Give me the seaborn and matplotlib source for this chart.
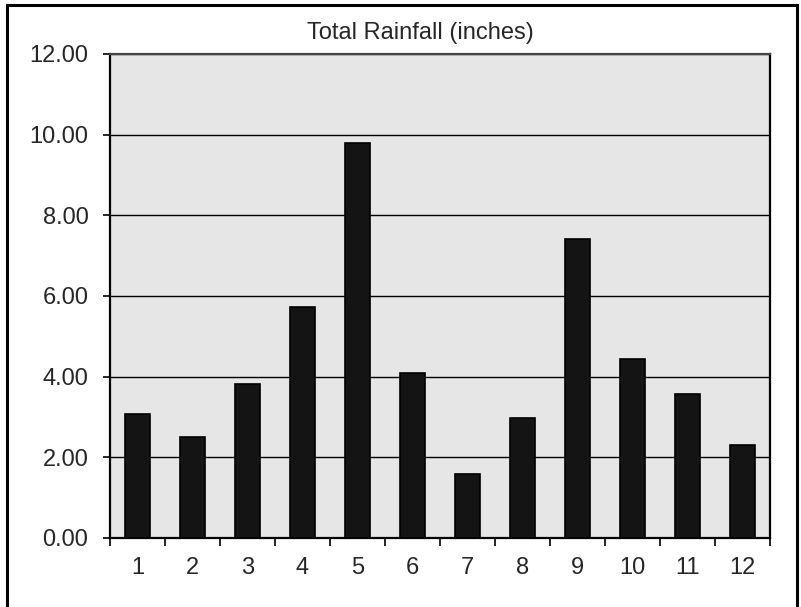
"""
Total rainfall per month, bar chart
"""
import matplotlib
matplotlib.use('Agg')
import matplotlib.pyplot as plt
from matplotlib.patches import Rectangle
from matplotlib.ticker import FixedLocator
import seaborn as sns
import pandas as pd

# Datos
months = ['1', '2', '3', '4', '5', '6', '7', '8', '9', '10', '11', '12']
rainfall = [3.08, 2.50, 3.82, 5.72, 9.80, 4.08, 1.58, 2.98, 7.41, 4.45, 3.56, 2.30]
y_ticks = [0, 2, 4, 6, 8, 10, 12]
title = 'Total Rainfall (inches)'

df = pd.DataFrame({'month': months, 'rainfall': rainfall})

sns.set_style('white')
plt.rcParams['font.family'] = ['Liberation Sans', 'DejaVu Sans']

fig = plt.figure(figsize=(8.01, 6.07), dpi=100)
ax = fig.add_axes([110 / 801, 1 - 538 / 607, 660 / 801, 484 / 607])
ax.set_facecolor('#e6e6e6')

sns.barplot(data=df, x='month', y='rainfall', color='#141414', width=0.46,
            edgecolor='black', linewidth=1.2, saturation=1, ax=ax, zorder=3)

ax.set_ylim(0, 12)
ax.set_xlim(-0.5, 11.5)
ax.set_yticks(y_ticks)
ax.set_yticklabels([f'{v:.2f}' for v in y_ticks], fontsize=17)
ax.yaxis.grid(True, color='black', linewidth=1.0, zorder=1)
ax.set_axisbelow(True)
ax.tick_params(axis='y', direction='out', length=5, width=1.2, color='black', pad=10.5, left=True)

# ticks entre categorías
ax.xaxis.set_minor_locator(FixedLocator([i - 0.5 for i in range(13)]))
ax.tick_params(axis='x', which='major', length=0, labelsize=17, pad=14)
ax.tick_params(axis='x', which='minor', direction='out', length=6, width=1.2,
               color='black', bottom=True)
ax.set_xlabel('')
ax.set_ylabel('')

for side in ['left', 'bottom', 'right']:
    ax.spines[side].set_color('black')
    ax.spines[side].set_linewidth(1.6)
ax.spines['top'].set_color('#444444')
ax.spines['top'].set_linewidth(1.6)
for s in ax.spines.values():
    s.set_visible(True)

fig.text(420 / 801, 1 - 33 / 607, title, ha='center', va='center', fontsize=17)

# borde exterior
fig.patches.append(Rectangle((7 / 801, -0.02), 790 / 801, 1.012, transform=fig.transFigure,
                             fill=False, edgecolor='black', linewidth=2.2))

fig.savefig('out.png', dpi=100, facecolor='white')
